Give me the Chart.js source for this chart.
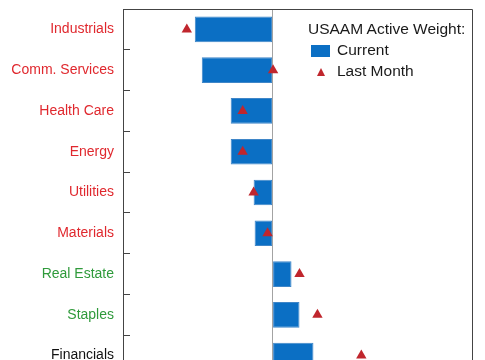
<!DOCTYPE html>
<html>
<head>
<meta charset="utf-8">
<script src="https://cdn.jsdelivr.net/npm/chart.js@4"></script>
<style>
  html, body { margin: 0; padding: 0; background: #fff; overflow: hidden; }
  #wrap { position: relative; width: 485px; height: 360px; overflow: hidden; }
  canvas { position: absolute; left: 0; top: 0; }
  .lg { position: absolute; font-family: 'Liberation Sans', Arial, sans-serif; font-size: 15.5px; color: #1a1a1a; white-space: nowrap; line-height: 18px; }
  .sq { position: absolute; background: #0b6fc4; }
  .tri { position: absolute; width: 0; height: 0; border-left: 4.5px solid transparent; border-right: 4.5px solid transparent; border-bottom: 8px solid #c0262d; }
</style>
</head>
<body>
<div id="wrap">
  <canvas id="c" width="485" height="420"></canvas>
  <div class="lg" style="left:308px; top:20px;">USAAM Active Weight:</div>
  <div class="sq" style="left:311px; top:45px; width:19px; height:12px;"></div>
  <div class="lg" style="left:337px; top:41px;">Current</div>
  <div class="tri" style="left:316.5px; top:68px;"></div>
  <div class="lg" style="left:337px; top:62px;">Last Month</div>
</div>
<script>
const categories = ['Industrials', 'Comm. Services', 'Health Care', 'Energy', 'Utilities', 'Materials', 'Real Estate', 'Staples', 'Financials'];
const currentWeights = [-1.56, -1.42, -0.84, -0.84, -0.38, -0.36, 0.38, 0.54, 0.82];
const lastMonthWeights = [-1.72, 0.01, -0.60, -0.60, -0.38, -0.10, 0.54, 0.90, 1.78];
const labelColors = ['#e0282e', '#e0282e', '#e0282e', '#e0282e', '#e0282e', '#e0282e', '#2f9a3b', '#2f9a3b', '#111111'];

const frame = {
  id: 'frame',
  afterDraw(chart) {
    const { ctx, chartArea: a } = chart;
    ctx.save();
    ctx.strokeStyle = '#444';
    ctx.lineWidth = 1;
    ctx.beginPath();
    ctx.moveTo(a.left, a.top + 0.5);
    ctx.lineTo(a.right + 0.5, a.top + 0.5);
    ctx.lineTo(a.right + 0.5, a.bottom);
    ctx.stroke();
    ctx.restore();
  }
};

new Chart(document.getElementById('c'), {
  type: 'bar',
  data: {
    labels: categories,
    datasets: [
      {
        type: 'line',
        label: 'Last Month',
        data: lastMonthWeights,
        showLine: false,
        pointStyle: 'triangle',
        pointRadius: 6,
        pointHoverRadius: 6,
        backgroundColor: '#c0262d',
        borderColor: '#c0262d',
        borderWidth: 0,
        order: 0
      },
      {
        label: 'Current',
        data: currentWeights,
        backgroundColor: '#0b6fc4',
        borderColor: '#3f86c8',
        borderWidth: 1,
        borderSkipped: false,
        categoryPercentage: 1,
        barPercentage: 0.63,
        order: 1
      }
    ]
  },
  options: {
    indexAxis: 'y',
    responsive: false,
    animation: false,
    layout: { padding: { left: 0, top: 9, right: 13, bottom: 44 } },
    plugins: { legend: { display: false }, tooltip: { enabled: false } },
    scales: {
      x: {
        type: 'linear',
        min: -3,
        max: 4,
        ticks: { display: false, stepSize: 1 },
        border: { display: false },
        grid: {
          drawTicks: false,
          color: (ctx) => (ctx.tick && ctx.tick.value === 0 ? '#a3a3a3' : 'rgba(0,0,0,0)'),
          lineWidth: 1
        },
        afterFit: (s) => { s.height = 0; s.paddingLeft = 0; s.paddingRight = 0; s.paddingTop = 0; s.paddingBottom = 0; }
      },
      y: {
        type: 'category',
        border: { display: true, color: '#444', width: 1 },
        grid: {
          offset: true,
          drawOnChartArea: false,
          drawTicks: true,
          tickLength: -7,
          color: '#444',
          lineWidth: 1
        },
        ticks: {
          padding: 16,
          autoSkip: false,
          color: (ctx) => labelColors[ctx.index],
          font: { family: "'Liberation Sans', Arial, sans-serif", size: 14 }
        },
        afterFit: (s) => { s.width = 123; s.paddingTop = 0; s.paddingBottom = 0; s.paddingLeft = 0; s.paddingRight = 0; }
      }
    }
  },
  plugins: [frame]
});
</script>
</body>
</html>
